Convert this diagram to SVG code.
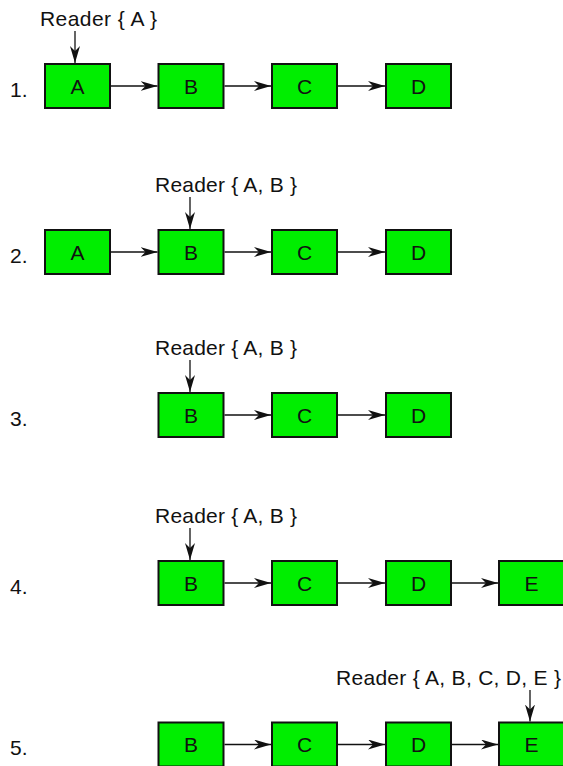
<svg xmlns="http://www.w3.org/2000/svg" width="563" height="766" viewBox="0 0 563 766">
<style>
.box{fill:#00ee00;stroke:#111;stroke-width:2}
.t{font-family:"Liberation Sans",Arial,sans-serif;font-size:21px;fill:#111}
.c{text-anchor:middle}
.ln{stroke:#111;stroke-width:1.3;fill:none;marker-end:url(#ah)}
</style>
<defs>
<marker id="ah" viewBox="0 0 17 10" refX="17" refY="5" markerWidth="17" markerHeight="10" markerUnits="userSpaceOnUse" orient="auto">
<path d="M0,0 L17,5 L0,10 L5,5 Z" fill="#111"/>
</marker>
</defs>
<rect width="563" height="766" fill="#fff"/>
<g id="labels">
<text class="t" x="10" y="97">1.</text>
<text class="t" x="10" y="263">2.</text>
<text class="t" x="10" y="426">3.</text>
<text class="t" x="10" y="594">4.</text>
<text class="t" x="10" y="755">5.</text>
<text class="t" x="40" y="26" textLength="117" lengthAdjust="spacing">Reader { A }</text>
<text class="t" x="155" y="192" textLength="142" lengthAdjust="spacing">Reader { A, B }</text>
<text class="t" x="155" y="355" textLength="142" lengthAdjust="spacing">Reader { A, B }</text>
<text class="t" x="155" y="523" textLength="142" lengthAdjust="spacing">Reader { A, B }</text>
<text class="t" x="336" y="685" textLength="225" lengthAdjust="spacing">Reader { A, B, C, D, E }</text>
</g>
<g id="row1">
<g id="r1A"><rect class="box" x="45" y="64" width="65" height="44"/><text class="t c" x="77.5" y="93.5">A</text></g>
<g id="r1B"><rect class="box" x="158.5" y="64" width="65" height="44"/><text class="t c" x="191" y="93.5">B</text></g>
<g id="r1C"><rect class="box" x="272" y="64" width="65" height="44"/><text class="t c" x="304.5" y="93.5">C</text></g>
<g id="r1D"><rect class="box" x="386" y="64" width="65" height="44"/><text class="t c" x="418.5" y="93.5">D</text></g>
</g>
<g id="row2">
<g id="r2A"><rect class="box" x="45" y="230" width="65" height="44"/><text class="t c" x="77.5" y="259.5">A</text></g>
<g id="r2B"><rect class="box" x="158.5" y="230" width="65" height="44"/><text class="t c" x="191" y="259.5">B</text></g>
<g id="r2C"><rect class="box" x="272" y="230" width="65" height="44"/><text class="t c" x="304.5" y="259.5">C</text></g>
<g id="r2D"><rect class="box" x="386" y="230" width="65" height="44"/><text class="t c" x="418.5" y="259.5">D</text></g>
</g>
<g id="row3">
<g id="r3B"><rect class="box" x="158.5" y="393" width="65" height="44"/><text class="t c" x="191" y="422.5">B</text></g>
<g id="r3C"><rect class="box" x="272" y="393" width="65" height="44"/><text class="t c" x="304.5" y="422.5">C</text></g>
<g id="r3D"><rect class="box" x="386" y="393" width="65" height="44"/><text class="t c" x="418.5" y="422.5">D</text></g>
</g>
<g id="row4">
<g id="r4B"><rect class="box" x="158.5" y="561" width="65" height="44"/><text class="t c" x="191" y="590.5">B</text></g>
<g id="r4C"><rect class="box" x="272" y="561" width="65" height="44"/><text class="t c" x="304.5" y="590.5">C</text></g>
<g id="r4D"><rect class="box" x="386" y="561" width="65" height="44"/><text class="t c" x="418.5" y="590.5">D</text></g>
<g id="r4E"><rect class="box" x="499" y="561" width="65" height="44"/><text class="t c" x="531.5" y="590.5">E</text></g>
</g>
<g id="row5">
<g id="r5B"><rect class="box" x="158.5" y="722.5" width="65" height="44"/><text class="t c" x="191" y="752">B</text></g>
<g id="r5C"><rect class="box" x="272" y="722.5" width="65" height="44"/><text class="t c" x="304.5" y="752">C</text></g>
<g id="r5D"><rect class="box" x="386" y="722.5" width="65" height="44"/><text class="t c" x="418.5" y="752">D</text></g>
<g id="r5E"><rect class="box" x="499" y="722.5" width="65" height="44"/><text class="t c" x="531.5" y="752">E</text></g>
</g>
<g id="connectors">
<line class="ln" x1="111" y1="86" x2="157.5" y2="86"/>
<line class="ln" x1="224.5" y1="86" x2="271" y2="86"/>
<line class="ln" x1="338" y1="86" x2="385" y2="86"/>
<line class="ln" x1="111" y1="252" x2="157.5" y2="252"/>
<line class="ln" x1="224.5" y1="252" x2="271" y2="252"/>
<line class="ln" x1="338" y1="252" x2="385" y2="252"/>
<line class="ln" x1="224.5" y1="415" x2="271" y2="415"/>
<line class="ln" x1="338" y1="415" x2="385" y2="415"/>
<line class="ln" x1="224.5" y1="583" x2="271" y2="583"/>
<line class="ln" x1="338" y1="583" x2="385" y2="583"/>
<line class="ln" x1="452" y1="583" x2="498" y2="583"/>
<line class="ln" x1="224.5" y1="744.5" x2="271" y2="744.5"/>
<line class="ln" x1="338" y1="744.5" x2="385" y2="744.5"/>
<line class="ln" x1="452" y1="744.5" x2="498" y2="744.5"/>
<line class="ln" x1="75" y1="31" x2="75" y2="63"/>
<line class="ln" x1="190" y1="197" x2="190" y2="229"/>
<line class="ln" x1="190" y1="360" x2="190" y2="392"/>
<line class="ln" x1="190" y1="528" x2="190" y2="560"/>
<line class="ln" x1="530" y1="690" x2="530" y2="721.5"/>
</g>
</svg>
